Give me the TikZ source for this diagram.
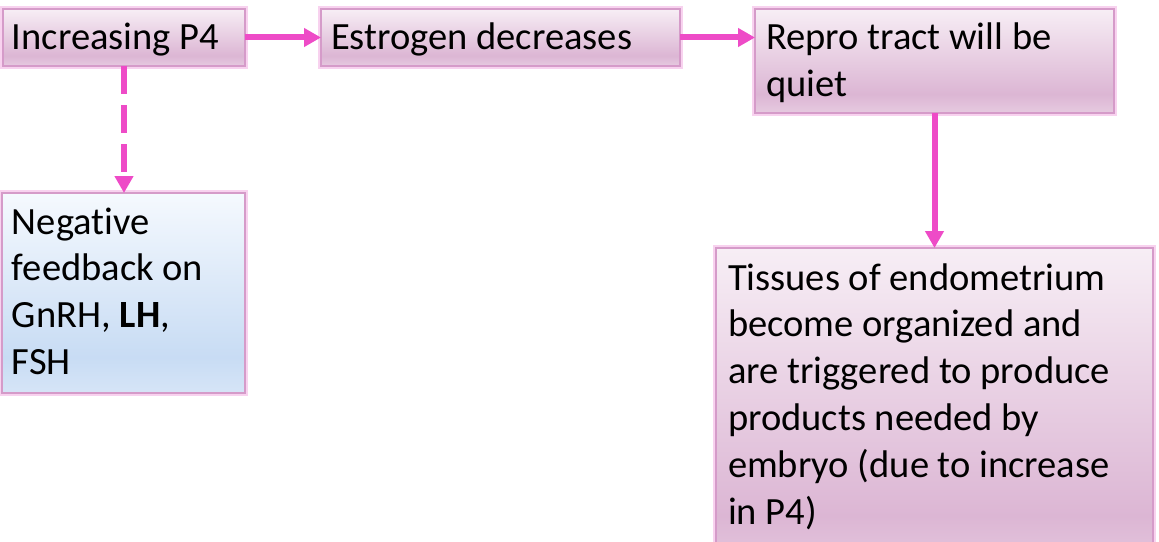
\documentclass[tikz,border=0pt]{standalone}
\usepackage{fontspec}
\setmainfont{Carlito}[RawFeature={-liga;-clig;-calt;-dlig}]
\usetikzlibrary{arrows.meta}
\definecolor{pk1}{HTML}{F7EEF5}
\definecolor{pk2}{HTML}{DCB6D4}
\definecolor{pk3}{HTML}{E6CAE0}
\definecolor{bl1}{HTML}{F5F9FE}
\definecolor{bl2}{HTML}{C8DCF4}
\definecolor{bl3}{HTML}{D6E5F7}
\definecolor{bord}{HTML}{D59BC9}
\definecolor{glow}{HTML}{F8D2EF}
\definecolor{arr}{HTML}{EE4BC7}
\pgfdeclareverticalshading{pinkgrad}{100bp}{color(0bp)=(pk3); color(25bp)=(pk3); color(34bp)=(pk2); color(75bp)=(pk1); color(100bp)=(pk1)}
\pgfdeclareverticalshading{bluegrad}{100bp}{color(0bp)=(bl3); color(25bp)=(bl3); color(34bp)=(bl2); color(75bp)=(bl1); color(100bp)=(bl1)}
\tikzset{
  boxbase/.style={rectangle, inner sep=0pt, outer sep=0pt, anchor=north west,
    preaction={draw=glow, line width=4.5pt}, draw=bord, line width=1.1pt},
  pbox/.style={boxbase, shading=pinkgrad},
  bbox/.style={boxbase, shading=bluegrad},
  txt/.style={inner sep=0pt, outer sep=0pt, anchor=base west, align=flush left,
    font=\fontsize{28.9pt}{35.1pt}\selectfont},
  conn/.style={draw=arr, line width=4.5pt, -{Triangle[length=12.75pt, width=13.5pt]}},
}
\begin{document}
\begin{tikzpicture}[x=0.75pt,y=-0.75pt]
\useasboundingbox (0,0) rectangle (1159,542);
% boxes
\node[pbox, minimum width=181.5pt, minimum height=42.75pt] (b1) at (3,9) {};
\node[pbox, minimum width=269.25pt, minimum height=42.75pt] (b2) at (321,9) {};
\node[pbox, minimum width=269.25pt, minimum height=78pt] (b3) at (755,9) {};
\node[bbox, minimum width=182.25pt, minimum height=150pt] (b4) at (2,193) {};
\node[pbox, minimum width=327.75pt, minimum height=245.25pt] (b5) at (716,248) {};
% texts
\node[txt] (t1) at ([shift={(9,41)}]b1.north west) {Increasing P4};
\node[txt] (t2) at ([shift={(10,41)}]b2.north west) {Estrogen decreases};
\node[txt, text width=255pt] (t3) at ([shift={(11,41)}]b3.north west) {Repro tract will be\\quiet};
\node[txt, text width=172pt] (t4) at ([shift={(10,41)}]b4.north west) {Negative\\feedback on\\GnRH, \textbf{LH},\\FSH};
\node[txt, text width=315pt] (t5) at ([shift={(12,42)}]b5.north west) {Tissues of endometrium\\become organized and\\are triggered to produce\\products needed by\\embryo (due to increase\\in P4)};
% connectors
\draw[conn] (b1.east) -- (b2.west);
\draw[conn] (b2.east) -- (b2.east -| b3.west);
\draw[conn, dash pattern=on 21pt off 8.25pt] (b1.south) -- (b1.south |- b4.north);
\draw[conn] (b3.south) -- (b3.south |- b5.north);
\end{tikzpicture}
\end{document}
